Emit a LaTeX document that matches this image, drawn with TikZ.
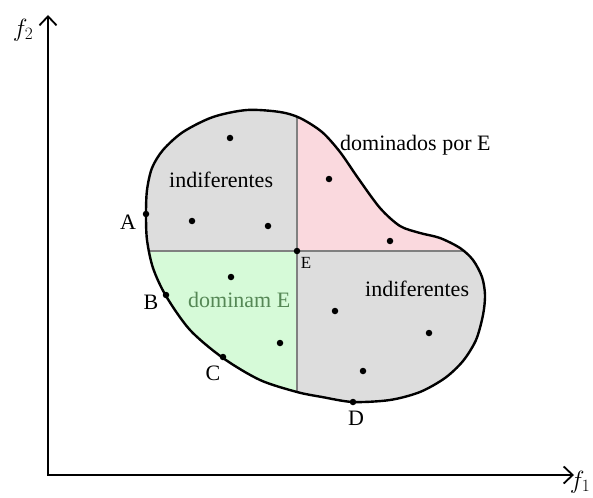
\documentclass[tikz,border=0pt]{standalone}
\usepackage{fontspec}
\setmainfont{Liberation Serif}
\usetikzlibrary{arrows.meta}
\definecolor{grayfill}{RGB}{221,221,221}
\definecolor{pinkfill}{RGB}{250,217,222}
\definecolor{greenfill}{RGB}{214,250,216}
\definecolor{greentext}{RGB}{85,135,85}
\definecolor{linegray}{RGB}{128,128,128}
\def\blobpath{plot[smooth cycle, tension=0.5] coordinates{(146,214) (147,190) (152,168) (163,150) (183,132) (213,117) (247,110) (280,112) (300,118) (322,132) (340,152) (358,178) (380,208) (400,226) (420,233) (440,238) (460,248) (473,260) (482,277) (485,295) (483,315) (476,340) (463,361) (445,378) (420,392) (390,400) (353,402) (322,397) (297,392) (260,380) (223,358) (190,330) (166,296) (153,268) (147,240)}}
\begin{document}
\begin{tikzpicture}[x=1pt,y=-1pt,
  dot/.style={circle,fill=black,inner sep=0pt,minimum size=6.5pt},
  lbl/.style={font=\fontsize{22}{24}\selectfont, inner sep=0pt},
  axlbl/.style={font=\fontsize{26}{28}\selectfont, inner sep=0pt},
  axis/.style={line width=2.8pt, -{Straight Barb[length=9pt,width=17pt,line width=1.8pt]}},
  divider/.style={draw=linegray, line width=1.8pt}
]
\useasboundingbox (0,0) rectangle (593,497);
\coordinate (O) at (48,475);
\coordinate (ytip) at (48,15);
\coordinate (xtip) at (574,475);
\coordinate (E) at (297,251);
% regions
\begin{scope}
  \clip \blobpath;
  \fill[grayfill] (100,80) rectangle (E);
  \fill[pinkfill] (297,80) rectangle (520,251);
  \fill[greenfill] (100,251) rectangle (297,440);
  \fill[grayfill] (E) rectangle (520,440);
  \draw[divider] (100,251) -- (520,251);
  \draw[divider] (297,80) -- (297,440);
\end{scope}
\draw[line width=2.4pt] \blobpath;
% axes
\draw[axis] (O) -- (ytip);
\draw[axis] (O) -- (xtip);
\fill (46.6,476.4) rectangle (49.4,473.6);
\node[axlbl] (f2) at (23,30) {$f_2$};
\node[axlbl] (f1) at (580,482) {$f_1$};
% dots
\node[dot] (p1) at (230,138) {};
\node[dot] (p2) at (192,221) {};
\node[dot] (p3) at (268,226) {};
\node[dot] (p4) at (329,179) {};
\node[dot] (p5) at (390,241) {};
\node[dot] (p6) at (231,277) {};
\node[dot] (p7) at (280,343) {};
\node[dot] (p8) at (335,311) {};
\node[dot] (p9) at (429,333) {};
\node[dot] (p10) at (363,371) {};
\node[dot] (dA) at (146,214) {};
\node[dot] (dB) at (166,295) {};
\node[dot] (dC) at (223,357) {};
\node[dot] (dD) at (353,402) {};
\node[dot] (dE) at (E) {};
% labels
\node[lbl,anchor=base west] (ind1) at (169,187) {indiferentes};
\node[lbl,anchor=base west] (dom) at (340,150) {dominados por E};
\node[lbl,anchor=base west,text=greentext] (domE) at (188,307) {dominam E};
\node[lbl,anchor=base west] (ind2) at (365,296) {indiferentes};
\node[lbl] (lA) at (128,222) {A};
\node[lbl] (lB) at (151,302) {B};
\node[lbl] (lC) at (213,373) {C};
\node[lbl] (lD) at (356,418) {D};
\node[lbl,font=\fontsize{17}{19}\selectfont] (lE) at (306,263) {E};
\end{tikzpicture}
\end{document}
